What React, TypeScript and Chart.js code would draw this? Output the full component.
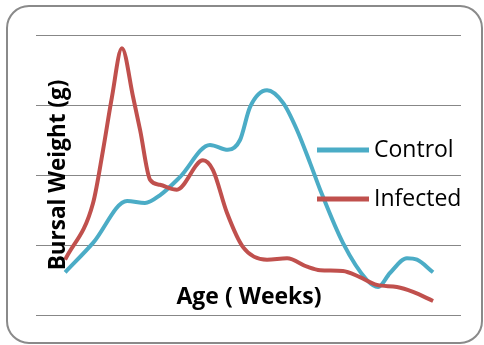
import React, { useEffect, useRef } from 'react';
import { Chart, registerables } from 'chart.js';
Chart.register(...registerables);

const seriesNames = ['Control', 'Infected'];
const controlWeeks = [0.96, 1.88, 3.0, 3.59, 4.08, 4.74, 5.73, 6.32, 6.72, 7.05, 7.61, 8.14, 8.6, 9.03, 9.36, 10.11, 10.9, 11.27, 11.66, 12.22, 12.55, 13.08];
const controlWeight = [0.61, 1.03, 1.63, 1.6, 1.71, 1.97, 2.43, 2.36, 2.5, 2.97, 3.21, 3.03, 2.64, 2.17, 1.79, 1.03, 0.5, 0.4, 0.6, 0.81, 0.79, 0.61];
const infectedWeeks = [0.96, 1.88, 2.21, 2.5, 2.83, 3.2, 3.43, 3.76, 4.08, 4.64, 5.5, 5.83, 6.29, 6.82, 7.61, 8.27, 8.93, 9.36, 10.11, 10.67, 11.23, 11.89, 12.42, 13.08];
const infectedWeight = [0.79, 1.6, 2.36, 3.11, 3.81, 3.11, 2.64, 1.93, 1.86, 1.79, 2.21, 2.07, 1.46, 0.97, 0.79, 0.81, 0.69, 0.64, 0.63, 0.54, 0.43, 0.4, 0.33, 0.2];
const yTicks = [0, 1, 2, 3, 4];
const xRange = [0, 14];
const xTitle = 'Age ( Weeks)';
const yTitle = 'Bursal Weight (g)';

const BLUE = '#4BACC6';
const RED = '#C0504D';
const colors = [BLUE, RED];

export default function App() {
  const ref = useRef<HTMLCanvasElement>(null);
  useEffect(() => {
    document.body.style.margin = '0';
    const canvas = ref.current;
    if (!canvas) return;
    const decor = {
      id: 'decor',
      beforeDraw(chart: any) {
        const ctx = chart.ctx;
        ctx.save();
        ctx.fillStyle = '#ffffff';
        ctx.fillRect(0, 0, chart.width, chart.height);
        ctx.beginPath();
        ctx.roundRect(7, 6, 475, 337, 22);
        ctx.lineWidth = 2;
        ctx.strokeStyle = '#8a8a8a';
        ctx.stroke();
        ctx.restore();
      },
      afterDatasetsDraw(chart: any) {
        const ctx = chart.ctx;
        const a = chart.chartArea;
        ctx.save();
        ctx.fillStyle = '#000000';
        ctx.textAlign = 'center';
        ctx.textBaseline = 'middle';
        // y title
        ctx.font = 'bold 22.5px "Open Sans"';
        ctx.save();
        ctx.translate(a.left + 23, (a.top + a.bottom) / 2);
        ctx.rotate(-Math.PI / 2);
        ctx.fillText(yTitle, 0, 0);
        ctx.restore();
        // x title
        ctx.font = 'bold 23px "Open Sans"';
        ctx.fillText(xTitle, a.left + 213, a.bottom - 18);
        // legend
        ctx.font = '23px "Open Sans"';
        ctx.textAlign = 'left';
        const rows = [150 - a.top, 199 - a.top];
        seriesNames.forEach((name, i) => {
          const y = a.top + rows[i];
          ctx.beginPath();
          ctx.moveTo(a.left + 281, y);
          ctx.lineTo(a.left + 333, y);
          ctx.lineWidth = 5;
          ctx.strokeStyle = colors[i];
          ctx.stroke();
          ctx.fillText(name, a.left + 338, y);
        });
        ctx.restore();
      },
    };
    const chart = new Chart(canvas, {
      type: 'line',
      data: {
        datasets: [
          {
            label: seriesNames[0],
            data: controlWeeks.map((x, i) => ({ x, y: controlWeight[i] })),
            borderColor: BLUE,
            borderWidth: 4,
            pointRadius: 0,
            cubicInterpolationMode: 'monotone',
            fill: false,
            order: 1,
          },
          {
            label: seriesNames[1],
            data: infectedWeeks.map((x, i) => ({ x, y: infectedWeight[i] })),
            borderColor: RED,
            borderWidth: 4,
            pointRadius: 0,
            cubicInterpolationMode: 'monotone',
            fill: false,
            order: 0,
          },
        ],
      },
      options: {
        animation: false,
        responsive: false,
        maintainAspectRatio: false,
        layout: { padding: { left: 36, right: 23, top: 35, bottom: 30 } },
        plugins: { legend: { display: false }, tooltip: { enabled: false } },
        scales: {
          x: { type: 'linear', display: false, min: xRange[0], max: xRange[1] },
          y: {
            min: yTicks[0],
            max: yTicks[yTicks.length - 1],
            afterFit: (s: any) => { s.width = 0; },
            afterBuildTicks: (s: any) => { s.ticks = yTicks.map((v) => ({ value: v })); },
            ticks: { display: false },
            border: { display: false },
            grid: { color: '#878787', lineWidth: 1, drawTicks: false },
          },
        },
      },
      plugins: [decor],
    } as any);
    return () => chart.destroy();
  }, []);
  return (
    <div style={{ position: 'fixed', left: 0, top: 0, width: 484, height: 345 }}>
      <canvas ref={ref} width={484} height={345} style={{ width: 484, height: 345, display: 'block' }} />
    </div>
  );
}
